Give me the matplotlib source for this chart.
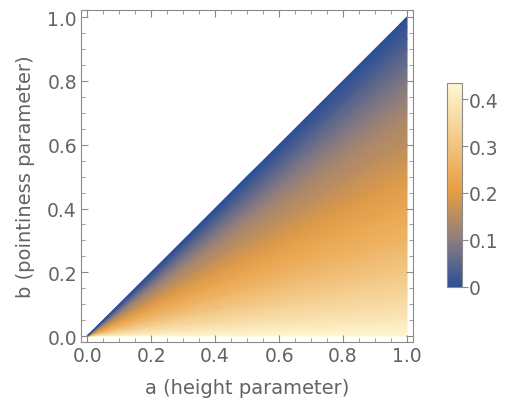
import numpy as np
import matplotlib
matplotlib.use('Agg')
import matplotlib.pyplot as plt
from matplotlib.colors import LinearSegmentedColormap
from matplotlib.ticker import MultipleLocator

# values, as a function of b/a (constant along rays from origin)
ratio = [0.0, 0.05, 0.1, 0.2, 0.3, 0.4, 0.5, 0.6, 0.7, 0.75, 0.8, 0.85, 0.9, 0.93, 0.97, 1.0]
value = [0.435, 0.395, 0.365, 0.31, 0.265, 0.228, 0.192, 0.158, 0.128, 0.108, 0.088, 0.065, 0.043, 0.029, 0.012, 0.0]
a_levels = [0.0, 0.5, 1.0]
cb_ticks = [0, 0.1, 0.2, 0.3, 0.4]
vmax = 0.435

plt.rcParams['font.family'] = ['DejaVu Sans']
txt = '#636363'
edge = '#8a8a8a'

cmap = LinearSegmentedColormap.from_list('m10', [
    (0.0, (0.17, 0.31, 0.59)),
    (0.23, (0.55, 0.49, 0.50)),
    (0.47, (0.91, 0.62, 0.26)),
    (1.0, (1.0, 0.97, 0.82))])

A, T = np.meshgrid(a_levels, ratio)
B = A * T
C = np.tile(np.array(value)[:, None], (1, len(a_levels)))

fig = plt.figure(figsize=(5.1, 4.1), dpi=100)
ax = fig.add_axes([0.159, 0.163, 0.651, 0.810])
pm = ax.pcolormesh(A, B, C, shading='gouraud', cmap=cmap, vmin=0, vmax=vmax)

ax.set_xlim(-0.019, 1.019)
ax.set_ylim(-0.019, 1.022)
for s in ax.spines.values():
    s.set_color(edge)
ax.xaxis.set_major_locator(MultipleLocator(0.2))
ax.yaxis.set_major_locator(MultipleLocator(0.2))
ax.xaxis.set_minor_locator(MultipleLocator(0.05))
ax.yaxis.set_minor_locator(MultipleLocator(0.05))
ax.tick_params(which='both', direction='in', top=True, right=True, color=edge, labelcolor=txt, labelsize=13.5)
ax.tick_params(which='major', length=5, pad=3)
ax.tick_params(which='minor', length=3)
ax.xaxis.set_major_formatter(plt.FormatStrFormatter('%.1f'))
ax.yaxis.set_major_formatter(plt.FormatStrFormatter('%.1f'))
ax.set_xlabel('a (height parameter)', color=txt, fontsize=14, labelpad=9)
ax.set_ylabel('b (pointiness parameter)', color=txt, fontsize=14, labelpad=9)

cax = fig.add_axes([0.876, 0.298, 0.03, 0.498])
cbar = fig.colorbar(pm, cax=cax, ticks=cb_ticks)
cbar.outline.set_edgecolor(edge)
cbar.ax.set_yticklabels(['0', '0.1', '0.2', '0.3', '0.4'])
cbar.ax.tick_params(color=edge, labelcolor=txt, labelsize=13.5, length=4, direction='out', pad=1)

fig.savefig('out.png', dpi=100)
